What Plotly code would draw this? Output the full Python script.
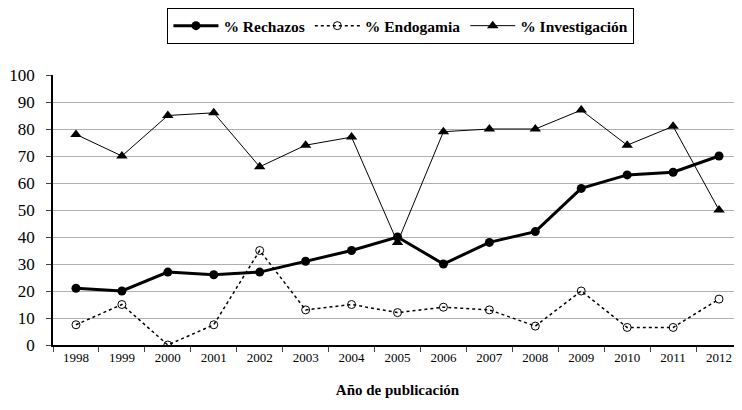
import plotly.graph_objects as go

years = [str(y) for y in range(1998, 2013)]
rechazos = [21, 20, 27, 26, 27, 31, 35, 40, 30, 38, 42, 58, 63, 64, 70]
endogamia = [7.5, 15, 0, 7.5, 35, 13, 15, 12, 14, 13, 7, 20, 6.5, 6.5, 17]
investigacion = [78, 70, 85, 86, 66, 74, 77, 38, 79, 80, 80, 87, 74, 81, 50]
yticks = list(range(0, 101, 10))

SERIF = "Liberation Serif"

fig = go.Figure()
fig.add_trace(go.Scatter(
    x=years, y=rechazos, name="% Rechazos", mode="lines+markers",
    line=dict(color="black", width=3),
    marker=dict(symbol="circle", size=9, color="black"),
))
fig.add_trace(go.Scatter(
    x=years, y=endogamia, name="% Endogamia", mode="lines+markers",
    line=dict(color="black", width=1.5, dash="dot"),
    marker=dict(symbol="circle-open", size=8, color="black", line=dict(width=1)),
))
fig.add_trace(go.Scatter(
    x=years, y=investigacion, name="% Investigación", mode="lines+markers",
    line=dict(color="black", width=1),
    marker=dict(symbol="triangle-up", size=10, color="black"),
))

# page body has an 8px margin, so the figure is sized 8px smaller
fig.update_layout(
    width=734, height=402,
    margin=dict(l=45, r=0, t=67, b=65),
    plot_bgcolor="white", paper_bgcolor="white",
    font=dict(family=SERIF, color="black"),
    legend=dict(
        orientation="h", x=0.505, xanchor="center", xref="paper",
        y=0.955, yanchor="middle", yref="container",
        bordercolor="black", borderwidth=1,
        font=dict(family=SERIF, size=15.5, weight="bold"),
        itemwidth=45, tracegroupgap=0,
    ),
    xaxis=dict(
        type="category", range=[-0.5, 14.5], tickson="boundaries",
        ticks="outside", ticklen=5, automargin=False,
        showline=True, linecolor="black", linewidth=1.5, showgrid=False,
        tickfont=dict(family=SERIF, size=13),
        title=dict(text="<b>Año de publicación</b>", font=dict(family=SERIF, size=15), standoff=20),
    ),
    yaxis=dict(
        range=[0, 100], tickvals=yticks, ticks="outside", ticklen=5,
        automargin=False, ticklabelstandoff=8,
        showline=True, linecolor="black", linewidth=1.5,
        showgrid=True, gridcolor="#b0b0b0", gridwidth=1.2,
        tickfont=dict(family=SERIF, size=17), zeroline=False,
    ),
)

fig.write_html("out.html")
